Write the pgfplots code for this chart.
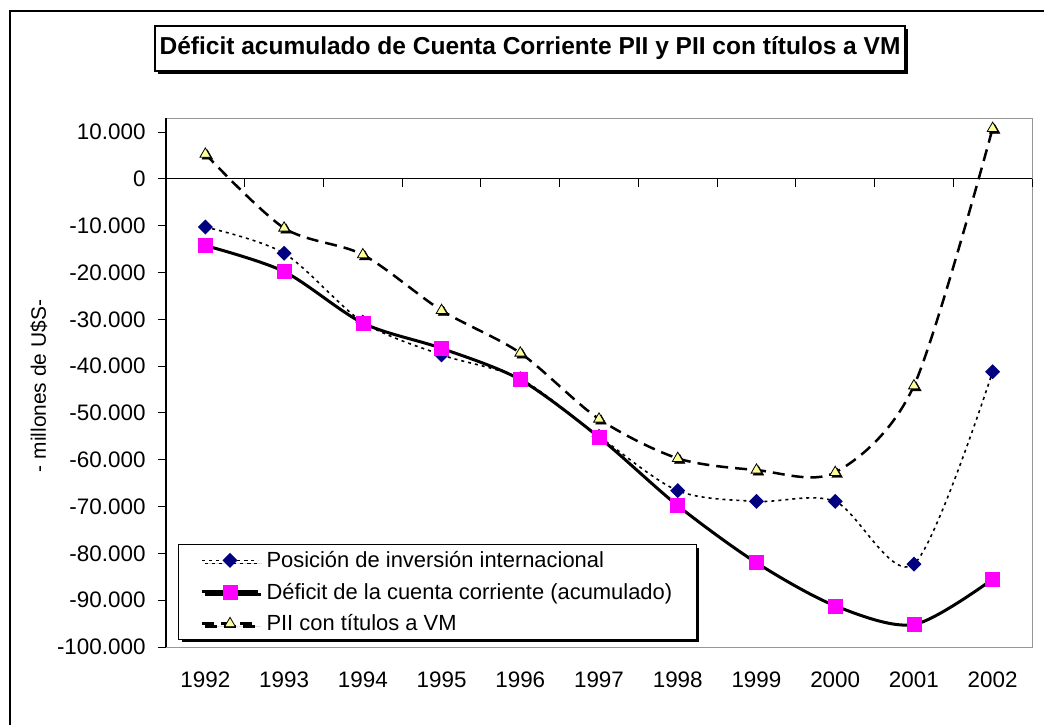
\documentclass[border=0pt]{standalone}
\usepackage{pgfplots}
\pgfplotsset{compat=1.18}
\usepackage{fontspec}
\setmainfont{Liberation Sans}
\usetikzlibrary{shadows}

\definecolor{navy}{RGB}{0,0,128}
\definecolor{pink}{RGB}{255,0,255}
\definecolor{lyellow}{RGB}{255,255,153}
\definecolor{boxgray}{RGB}{150,150,150}

% Posición de inversión internacional / Déficit acumulado / PII con títulos a VM
\pgfplotstableread{
year pii deficit piivm
1992 -10300 -14250 5300
1993 -15900 -19800 -10500
1994 -30600 -30800 -16200
1995 -37600 -36200 -28100
1996 -42700 -42900 -37200
1997 -55000 -55200 -51300
1998 -66600 -69800 -59700
1999 -68900 -82000 -62200
2000 -68900 -91200 -62700
2001 -82300 -95200 -44200
2002 -41200 -85500 10800
}\datos

\begin{document}
\begin{tikzpicture}
\useasboundingbox (0,0) rectangle (1044bp,-725bp);
\draw[line width=1.5bp] (10bp,-725bp) -- (10bp,-11bp) -- (1044bp,-11bp);

\node[draw, line width=1.2bp, fill=white, minimum width=750bp, minimum height=45bp,
  drop shadow={shadow xshift=3bp, shadow yshift=-3bp, opacity=1, fill=black},
  font=\bfseries\fontsize{24.6}{28}\selectfont] at (530bp,-48.5bp)
  {Déficit acumulado de Cuenta Corriente PII y PII con títulos a VM};

\begin{axis}[
    at={(166bp,-647bp)}, anchor=south west,
    scale only axis, width=866bp, height=529bp,
    xmin=1991.5, xmax=2002.5, ymin=-100000, ymax=13000,
    enlargelimits=false, clip=false,
    axis line style={draw=none},
    xtick={1992,1993,1994,1995,1996,1997,1998,1999,2000,2001,2002},
    xticklabels={1992,1993,1994,1995,1996,1997,1998,1999,2000,2001,2002},
    xtick pos=bottom, xtick style={draw=none},
    xticklabel style={anchor=north, yshift=-13bp},
    ytick={-100000,-90000,-80000,-70000,-60000,-50000,-40000,-30000,-20000,-10000,0,10000},
    ytick pos=left, tick align=outside, major tick length=8bp,
    ytick style={black, line width=1bp},
    scaled y ticks=false,
    yticklabel style={xshift=-9bp, /pgf/number format/.cd, fixed, 1000 sep={.}, assume math mode=true},
    tick label style={font=\fontsize{22.5}{26}\selectfont},
    ylabel={- millones de U\$S-},
    ylabel style={at={(rel axis cs:-0.1467,0.4934)}, anchor=center, font=\fontsize{21}{25}\selectfont},
    legend style={at={(0.0139,0.1947)}, anchor=north west, draw=black, line width=1bp,
      fill=white, font=\fontsize{22}{26}\selectfont, row sep=10bp,
      inner xsep=22bp, inner ysep=5bp,
      /tikz/every odd column/.append style={column sep=5bp},
      drop shadow={shadow xshift=3bp, shadow yshift=-3bp, opacity=1, fill=black}},
    legend cell align=left,
    legend image code/.code={\draw[#1, mark repeat=2, mark phase=2]
      plot coordinates {(0bp,0bp) (28bp,0bp) (56bp,0bp)};},
]
\draw[boxgray, line width=1bp] (rel axis cs:0,0) rectangle (rel axis cs:1,1);
\draw[black, line width=1.2bp] (rel axis cs:0,0) -- (rel axis cs:0,1);
\draw[black, line width=1.2bp] (axis cs:1991.5,0) -- (axis cs:2002.5,0);
\pgfplotsinvokeforeach{1992.5,1993.5,1994.5,1995.5,1996.5,1997.5,1998.5,1999.5,2000.5,2001.5,2002.5}{
  \draw[black, line width=1bp] (axis cs:#1,0) -- ++(0pt,-8bp);
}

\addplot[black, line width=1.6bp, dash pattern=on 3bp off 4bp, smooth,
  mark=square*, mark size=4.5bp, mark options={solid, rotate=45, fill=navy, draw=navy}]
  table[x=year, y=pii] {\datos};
\addlegendentry{Posición de inversión internacional}

\addplot[black, line width=3bp, smooth,
  mark=square*, mark size=7bp, mark options={solid, fill=pink, draw=pink, line width=0.5bp}]
  table[x=year, y=deficit] {\datos};
\addlegendentry{Déficit de la cuenta corriente (acumulado)}

% shadow of the triangle markers
\addplot[only marks, forget plot, mark=triangle*, mark size=6.2bp,
  mark options={solid, fill=black, draw=black, xshift=2bp, yshift=-2bp}]
  table[x=year, y=piivm] {\datos};
\addplot[black, line width=2.5bp, dash pattern=on 12bp off 7bp, smooth,
  mark=triangle*, mark size=6.2bp, mark options={solid, fill=lyellow, draw=black, line width=0.8bp}]
  table[x=year, y=piivm] {\datos};
\addlegendentry{PII con títulos a VM}
\end{axis}
\end{tikzpicture}
\end{document}
